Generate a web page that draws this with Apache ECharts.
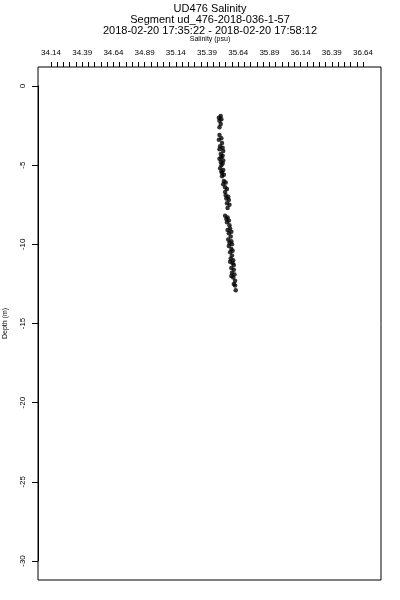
<!DOCTYPE html>
<html>
<head>
<meta charset="utf-8">
<script src="https://cdn.jsdelivr.net/npm/echarts@6/dist/echarts.min.js"></script>
<style>html,body{margin:0;padding:0;background:#fff}#c{width:400px;height:600px}</style>
</head>
<body>
<div id="c"></div>
<script>
var titleLines = ["UD476 Salinity", "Segment ud_476-2018-036-1-57", "2018-02-20 17:35:22 - 2018-02-20 17:58:12"];
var xAxisName = "Salinity (psu)";
var yAxisName = "Depth (m)";
var xTickLabels = ["34.14","34.39","34.64","34.89","35.14","35.39","35.64","35.89","36.14","36.39","36.64"];
var yTickLabels = ["-30","-25","-20","-15","-10","-5","0"];
var depth = [-1.9,-2.0,-2.1,-2.2,-2.4,-2.6,
  -3.1,-3.3,-3.4,-3.6,
  -3.8,-3.9,-4.0,-4.1,-4.3,-4.4,-4.5,-4.6,-4.7,-4.8,-4.9,-5.0,-5.2,
  -5.3,-5.4,-5.5,-5.6,-5.7,
  -6.0,-6.1,-6.2,-6.4,-6.5,-6.7,
  -6.9,-7.0,-7.1,-7.2,-7.4,-7.5,-7.7,
  -8.2,-8.3,-8.4,-8.5,-8.6,-8.8,
  -9.0,-9.1,-9.2,-9.3,-9.5,
  -9.7,-9.8,-9.9,-10.0,-10.1,-10.3,-10.4,-10.5,-10.7,
  -10.9,-11.0,-11.1,-11.2,-11.3,-11.5,-11.6,-11.8,
  -11.9,-12.0,-12.1,-12.3,-12.5,
  -12.6,-12.9];
var salinity = [35.50,35.485,35.505,35.49,35.50,35.49,
  35.49,35.505,35.485,35.51,
  35.495,35.515,35.49,35.52,35.50,35.515,35.505,35.49,35.52,35.50,35.515,35.505,35.495,
  35.52,35.505,35.51,35.525,35.51,
  35.525,35.54,35.52,35.535,35.55,35.535,
  35.54,35.56,35.545,35.565,35.55,35.57,35.555,
  35.535,35.555,35.545,35.565,35.55,35.57,
  35.575,35.555,35.585,35.565,35.58,
  35.56,35.585,35.57,35.59,35.565,35.585,35.595,35.575,35.59,
  35.58,35.60,35.575,35.595,35.605,35.585,35.605,35.59,
  35.61,35.585,35.60,35.615,35.605,
  35.615,35.62];

var points = salinity.map(function (s, i) { return [s, depth[i]]; });
var xMin = parseFloat(xTickLabels[0]), xMax = parseFloat(xTickLabels[xTickLabels.length - 1]);
var yMin = parseFloat(yTickLabels[0]), yMax = parseFloat(yTickLabels[yTickLabels.length - 1]);
var font = 'Liberation Sans';

function titleItem(text, top, size) {
  return {text: text, left: 210, top: top, padding: 0, textAlign: 'center',
    textStyle: {fontFamily: font, fontSize: size, fontWeight: 'normal', color: '#000'}};
}

var chart = echarts.init(document.getElementById('c'), null, {renderer: 'canvas'});
chart.setOption({
  animation: false,
  backgroundColor: '#fff',
  title: [
    titleItem(titleLines[0], 3, 11),
    titleItem(titleLines[1], 14, 11),
    titleItem(titleLines[2], 25, 11),
    titleItem(xAxisName, 36, 7)
  ],
  grid: [
    // 0: top tick/label axis
    {left: 51, right: 37, top: 67, bottom: 20, show: false, outerBoundsMode: 'none', containLabel: false},
    // 1: left tick/label axis
    {left: 38, right: 19, top: 86, bottom: 39, show: false, outerBoundsMode: 'none', containLabel: false},
    // 2: data area
    {left: 51, right: 37, top: 86, bottom: 39, show: false, outerBoundsMode: 'none', containLabel: false},
    // 3: frame
    {left: 38, right: 19, top: 67, bottom: 20, show: true, borderColor: '#000', borderWidth: 1, backgroundColor: 'transparent', outerBoundsMode: 'none', containLabel: false}
  ],
  xAxis: [
    {gridIndex: 0, type: 'value', position: 'top', min: xMin, max: xMax, interval: 0.05,
      splitLine: {show: false}, axisLine: {show: false, onZero: false},
      axisTick: {show: true, length: 5, lineStyle: {color: '#000', width: 1}},
      axisLabel: {show: true, margin: 10, color: '#000', fontFamily: font, fontSize: 8,
        formatter: function (v) {
          var k = Math.round((v - xMin) / 0.05);
          return (k % 5 === 0 && xTickLabels[k / 5]) ? xTickLabels[k / 5] : '';
        }}},
    {gridIndex: 1, type: 'value', min: 0, max: 1, show: false},
    {gridIndex: 2, type: 'value', min: xMin, max: xMax, show: false},
    {gridIndex: 3, type: 'value', min: 0, max: 1, show: false}
  ],
  yAxis: [
    {gridIndex: 0, type: 'value', min: 0, max: 1, show: false},
    {gridIndex: 1, type: 'value', position: 'left', min: yMin, max: yMax, interval: 5,
      splitLine: {show: false},
      axisLine: {show: true, onZero: false, lineStyle: {color: '#000', width: 1}},
      axisTick: {show: true, inside: false, length: 6, lineStyle: {color: '#000', width: 1}},
      axisLabel: {show: true, rotate: 90, margin: 11, color: '#000', fontFamily: font, fontSize: 8,
        formatter: function (v) { var i = Math.round((v - yMin) / 5); return yTickLabels[i] || ''; }},
      name: yAxisName, nameLocation: 'middle', nameRotate: 90, nameGap: 29,
      nameTextStyle: {fontFamily: font, fontSize: 7, color: '#000'}},
    {gridIndex: 2, type: 'value', min: yMin, max: yMax, show: false},
    {gridIndex: 3, type: 'value', min: 0, max: 1, show: false}
  ],
  series: [{
    type: 'scatter', xAxisIndex: 2, yAxisIndex: 2, data: points,
    symbol: 'circle', symbolSize: 4.5, itemStyle: {color: '#000'}, silent: true
  }]
});
</script>
</body>
</html>
